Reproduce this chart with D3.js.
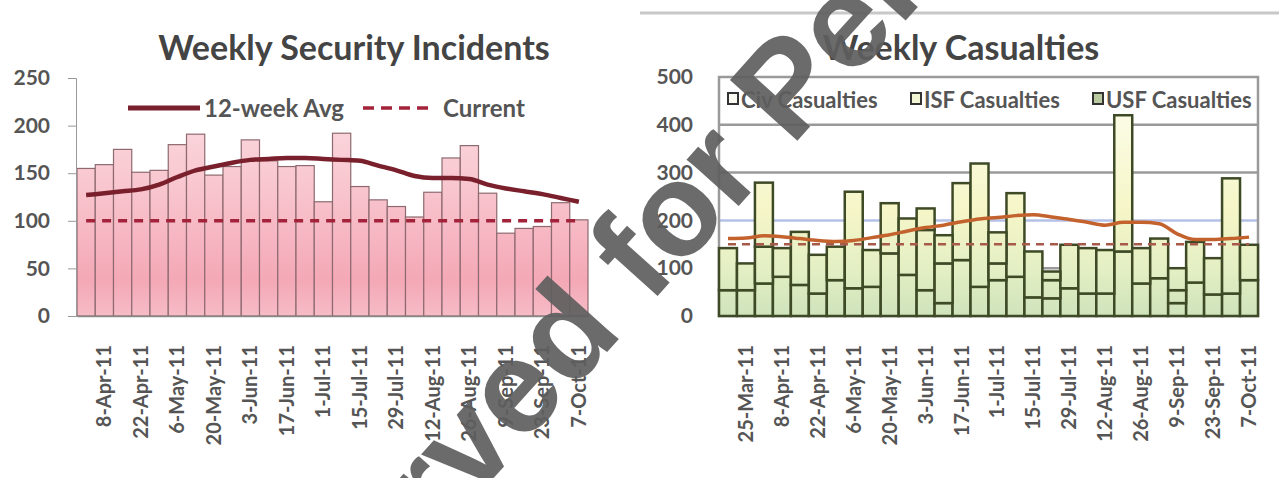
<!DOCTYPE html>
<html>
<head>
<meta charset="utf-8">
<script src="https://cdn.jsdelivr.net/npm/d3@7"></script>
<style>
  body { margin: 0; background: #fff; }
  svg { display: block; font-family: Lato, 'Open Sans', sans-serif; }
</style>
</head>
<body>
<svg id="chart" width="1279" height="478"></svg>
<script>
// ---- left chart data ----
var incidentWeeks = ['1-Apr-11','8-Apr-11','15-Apr-11','22-Apr-11','29-Apr-11','6-May-11','13-May-11','20-May-11',
  '27-May-11','3-Jun-11','10-Jun-11','17-Jun-11','24-Jun-11','1-Jul-11','8-Jul-11','15-Jul-11','22-Jul-11',
  '29-Jul-11','5-Aug-11','12-Aug-11','19-Aug-11','26-Aug-11','2-Sep-11','9-Sep-11','16-Sep-11','23-Sep-11',
  '30-Sep-11','7-Oct-11']
var incidents = [155,159,175,151,153,180,191,148,157,185,163,157,158,120,192,136,122,115,104,130,166,179,129,87,92,94,119,101]
var incidentAvg = [127,129,131,133,138,146,153,157,161,164,165,166,166,165,164,163,158,153,147,145,145,144,138,134,131,128,124,120]
var incidentCurrent = 100
var incidentTicks = [0,50,100,150,200,250]

// ---- right chart data ----
var casualtyWeeks = ['18-Mar-11','25-Mar-11'].concat(incidentWeeks)
var civCasualties = [54,54,68,82,65,47,75,58,61,131,86,54,27,117,61,75,82,39,37,58,47,47,135,68,79,27,70,45,47,75]
var isfCasualties = [88,56,77,60,111,81,70,202,77,105,118,126,83,161,258,35,175,96,38,91,95,91,285,74,83,27,85,76,241,74]
var usfCasualties = [0,0,134,0,0,0,0,0,0,0,0,45,59,0,0,65,0,0,18,0,0,0,0,0,0,46,0,0,0,0]
var casualtyAvg = [162,163,168,166,162,158,156,158,164,170,178,185,190,197,203,206,210,212,207,202,196,190,196,196,193,172,160,160,162,165]
var casualtyCurrent = 150
var casualtyTicks = [0,100,200,300,400,500]

var svg = d3.select('#chart')
var defs = svg.append('defs')

var pink = defs.append('linearGradient')
  .attr('id', 'pink').attr('gradientUnits', 'userSpaceOnUse')
  .attr('x1', 0).attr('x2', 0).attr('y1', 78).attr('y2', 316)
pink.append('stop').attr('offset', '0').attr('stop-color', '#fde2e7')
pink.append('stop').attr('offset', '0.5').attr('stop-color', '#f8c3cc')
pink.append('stop').attr('offset', '0.85').attr('stop-color', '#f4a8b6')
pink.append('stop').attr('offset', '1').attr('stop-color', '#f6bcc6')

var green = defs.append('linearGradient')
  .attr('id', 'green').attr('gradientUnits', 'userSpaceOnUse')
  .attr('x1', 0).attr('x2', 0).attr('y1', 77).attr('y2', 316)
green.append('stop').attr('offset', '0').attr('stop-color', '#fefef2')
green.append('stop').attr('offset', '0.55').attr('stop-color', '#f6f6c8')
green.append('stop').attr('offset', '0.8').attr('stop-color', '#e4efc4')
green.append('stop').attr('offset', '1').attr('stop-color', '#cfe3bb')

// ================= Weekly Security Incidents =================
var x1 = d3.scaleBand().domain(incidentWeeks).range([77, 588]).padding(0)
var y1 = d3.scaleLinear().domain([0, 250]).range([316, 78])

var left = svg.append('g')

left.append('text')
  .attr('x', 354).attr('y', 60)
  .style('text-anchor', 'middle')
  .attr('font-size', 34).attr('font-weight', 'bold')
  .attr('fill', '#444')
  .text('Weekly Security Incidents')

left.append('g')
  .selectAll('rect')
  .data(incidents)
  .enter().append('rect')
  .attr('x', function (d, i) { return x1(incidentWeeks[i]) })
  .attr('y', function (d) { return y1(d) })
  .attr('width', x1.bandwidth())
  .attr('height', function (d) { return y1(0) - y1(d) })
  .attr('fill', 'url(#pink)')
  .attr('stroke', '#8e6a70')
  .attr('stroke-width', 1.2)

var yAxis1 = left.append('g')
  .attr('transform', 'translate(76,0)')
  .call(d3.axisLeft(y1).tickValues(incidentTicks).tickSize(8).tickPadding(18))
yAxis1.select('.domain').attr('stroke', '#999')
yAxis1.selectAll('line').attr('stroke', '#999')
yAxis1.selectAll('text').attr('font-size', 21).attr('font-weight', 'bold').attr('fill', '#555').attr('font-family', 'Lato')

var xAxis1 = left.append('g')
  .attr('transform', 'translate(0,316)')
  .call(d3.axisBottom(x1).tickValues(incidentWeeks.filter(function (d, i) { return i % 2 == 1 })).tickSize(0))
xAxis1.select('.domain').attr('stroke', '#888').attr('stroke-width', 1.5)
xAxis1.selectAll('text')
  .attr('transform', 'rotate(-90)')
  .attr('x', -29).attr('y', 0).attr('dy', '0.35em')
  .style('text-anchor', 'end')
  .attr('font-size', 20).attr('font-weight', 'bold').attr('fill', '#555').attr('font-family', 'Lato')

var avgLine1 = d3.line()
  .x(function (d, i) { return x1(incidentWeeks[i]) + x1.bandwidth() / 2 })
  .y(function (d) { return y1(d) })
  .curve(d3.curveMonotoneX)

left.append('path')
  .datum(incidentAvg)
  .attr('d', avgLine1)
  .attr('fill', 'none')
  .attr('stroke', '#7a1f2c')
  .attr('stroke-width', 4.5)

left.append('line')
  .attr('x1', x1(incidentWeeks[0]) + x1.bandwidth() / 2)
  .attr('x2', x1(incidentWeeks[incidentWeeks.length - 1]) + x1.bandwidth() / 2)
  .attr('y1', y1(incidentCurrent)).attr('y2', y1(incidentCurrent))
  .attr('stroke', '#a3243a')
  .attr('stroke-width', 3.5)
  .style('stroke-dasharray', '9, 7')

// legend
left.append('line').attr('x1', 128).attr('x2', 200).attr('y1', 108).attr('y2', 108)
  .attr('stroke', '#7a1f2c').attr('stroke-width', 5)
left.append('text').attr('x', 204).attr('y', 117)
  .attr('font-size', 24).attr('font-weight', 'bold').attr('fill', '#555')
  .text('12-week Avg')
left.append('line').attr('x1', 363).attr('x2', 432).attr('y1', 108).attr('y2', 108)
  .attr('stroke', '#a3243a').attr('stroke-width', 3.5)
  .style('stroke-dasharray', '11, 7')
left.append('text').attr('x', 443).attr('y', 117)
  .attr('font-size', 24).attr('font-weight', 'bold').attr('fill', '#555')
  .text('Current')

// ================= Weekly Casualties =================
var x2 = d3.scaleBand().domain(casualtyWeeks).range([719, 1258]).padding(0)
var y2 = d3.scaleLinear().domain([0, 500]).range([316, 77])

var right = svg.append('g')

svg.append('line').attr('x1', 640).attr('x2', 1279).attr('y1', 13).attr('y2', 13)
  .attr('stroke', '#c8c8c8').attr('stroke-width', 3)

right.append('text')
  .attr('x', 961).attr('y', 60)
  .style('text-anchor', 'middle')
  .attr('font-size', 34).attr('font-weight', 'bold')
  .attr('fill', '#444')
  .text('Weekly Casualties')

right.append('g')
  .selectAll('line')
  .data(casualtyTicks.filter(function (d) { return d > 0 && d < 500 }))
  .enter().append('line')
  .attr('x1', 719).attr('x2', 1258)
  .attr('y1', function (d) { return y2(d) })
  .attr('y2', function (d) { return y2(d) })
  .attr('stroke', function (d) { return d == 200 ? '#b4c0e6' : '#9a9a9a' })
  .attr('stroke-width', 2.5)

right.append('rect')
  .attr('x', 719).attr('y', y2(500))
  .attr('width', 1258 - 719).attr('height', y2(0) - y2(500))
  .attr('fill', 'none').attr('stroke', '#9a9a9a').attr('stroke-width', 2.5)

var casualtyTable = casualtyWeeks.map(function (w, i) {
  return { week: w, civ: civCasualties[i], isf: isfCasualties[i], usf: usfCasualties[i] }
})
var layers = d3.stack().keys(['civ', 'isf', 'usf'])(casualtyTable)

right.append('g')
  .selectAll('g')
  .data(layers)
  .enter().append('g')
  .selectAll('rect')
  .data(function (d) { return d.filter(function (s) { return s[1] > s[0] }) })
  .enter().append('rect')
  .attr('x', function (d) { return x2(d.data.week) })
  .attr('y', function (d) { return y2(d[1]) })
  .attr('width', x2.bandwidth())
  .attr('height', function (d) { return y2(d[0]) - y2(d[1]) })
  .attr('fill', 'url(#green)')
  .attr('stroke', '#3e4a26')
  .attr('stroke-width', 2.5)

var yAxis2 = right.append('g')
  .attr('transform', 'translate(719,0)')
  .call(d3.axisLeft(y2).tickValues(casualtyTicks).tickSize(0).tickPadding(26))
yAxis2.select('.domain').remove()
yAxis2.selectAll('text').attr('font-size', 21).attr('font-weight', 'bold').attr('fill', '#555').attr('font-family', 'Lato')

var xAxis2 = right.append('g')
  .attr('transform', 'translate(0,316)')
  .call(d3.axisBottom(x2).tickValues(casualtyWeeks.filter(function (d, i) { return i % 2 == 1 })).tickSize(0))
xAxis2.select('.domain').remove()
xAxis2.selectAll('text')
  .attr('transform', 'rotate(-90)')
  .attr('x', -29).attr('y', 0).attr('dy', '0.35em')
  .style('text-anchor', 'end')
  .attr('font-size', 20).attr('font-weight', 'bold').attr('fill', '#555').attr('font-family', 'Lato')

var avgLine2 = d3.line()
  .x(function (d, i) { return x2(casualtyWeeks[i]) + x2.bandwidth() / 2 })
  .y(function (d) { return y2(d) })
  .curve(d3.curveMonotoneX)

right.append('line')
  .attr('x1', x2(casualtyWeeks[0]) + x2.bandwidth() / 2)
  .attr('x2', x2(casualtyWeeks[casualtyWeeks.length - 1]) + x2.bandwidth() / 2)
  .attr('y1', y2(casualtyCurrent)).attr('y2', y2(casualtyCurrent))
  .attr('stroke', '#a85a4a')
  .attr('stroke-width', 2.5)
  .style('stroke-dasharray', '8, 6')

right.append('path')
  .datum(casualtyAvg)
  .attr('d', avgLine2)
  .attr('fill', 'none')
  .attr('stroke', '#c4622e')
  .attr('stroke-width', 3.5)

// legend
var legendItems = [
  { name: 'Civ Casualties', x: 728, fill: '#fafaf2' },
  { name: 'ISF Casualties', x: 911, fill: '#f3f6d4' },
  { name: 'USF Casualties', x: 1093, fill: '#b9c9a0' }
]
var legend = right.append('g')
  .selectAll('g')
  .data(legendItems)
  .enter().append('g')
legend.append('rect')
  .attr('x', function (d) { return d.x }).attr('y', 93)
  .attr('width', 10).attr('height', 11)
  .attr('fill', function (d) { return d.fill })
  .attr('stroke', '#333').attr('stroke-width', 2)
legend.append('text')
  .attr('x', function (d) { return d.x + 13 }).attr('y', 108)
  .attr('font-size', 22).attr('font-weight', 'bold').attr('fill', '#555')
  .text(function (d) { return d.name })

// watermark over both charts
svg.append('text')
  .attr('transform', 'translate(924,0) rotate(-48)')
  .style('text-anchor', 'end')
  .attr('font-family', 'Liberation Sans')
  .attr('font-size', 132).attr('font-weight', 'bold')
  .attr('fill', '#5e5e5e').attr('fill-opacity', 0.92)
  .text('Reserved for Pel')
</script>
</body>
</html>
